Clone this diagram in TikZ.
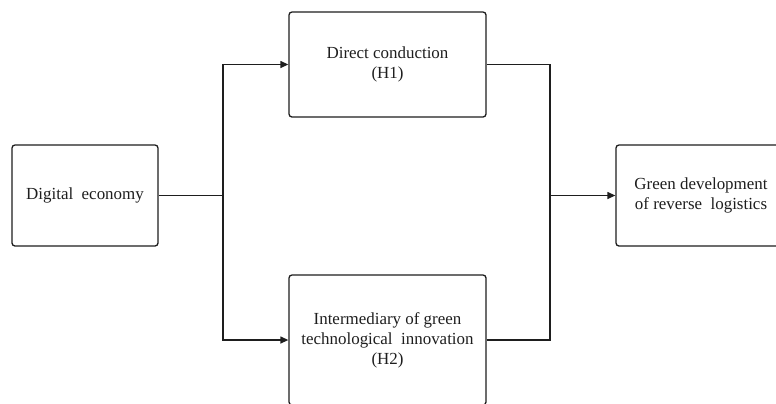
\documentclass[tikz,border=0pt]{standalone}
\usepackage{fontspec}
\setmainfont{Liberation Serif}
\usetikzlibrary{arrows.meta}
\definecolor{ink}{HTML}{1E1E1E}
\tikzset{
  box/.style={draw=ink, line width=1.3bp, rounded corners=3bp, fill=white,
    align=center, text=ink, inner sep=0pt,
    font=\fontsize{17}{20}\selectfont},
  link/.style={draw=ink, line width=1.3bp},
  arr/.style={link, -{Triangle[length=8bp,width=7bp]}}
}
\begin{document}
\begin{tikzpicture}[x=1bp,y=-1bp]
\clip (0,0) rectangle (776,403);
\fill[white] (0,0) rectangle (776,403);
\node[box, minimum width=146bp, minimum height=101bp] (dig) at (85,195.5) {Digital\ \ economy};
\node[box, minimum width=197bp, minimum height=105bp] (h1) at (387.5,64.5) {Direct conduction\\(H1)};
\node[box, minimum width=197bp, minimum height=130bp] (h2) at (387.5,340) {Intermediary of green\\technological\ \ innovation\\(H2)};
\node[box, minimum width=170bp, minimum height=101bp] (gd) at (701,195.5) {Green development\\of reverse\ \ logistics};
\coordinate (sL) at (223,195.5);
\coordinate (sR) at (550,195.5);
\draw[link] (dig.east) -- (sL);
\draw[arr] (sL) |- (h1.west);
\draw[arr] (sL) |- (h2.west);
\draw[link] (h1.east) -| (sR);
\draw[link] (h2.east) -| (sR);
\draw[arr] (sR) -- (gd.west);
\end{tikzpicture}
\end{document}
